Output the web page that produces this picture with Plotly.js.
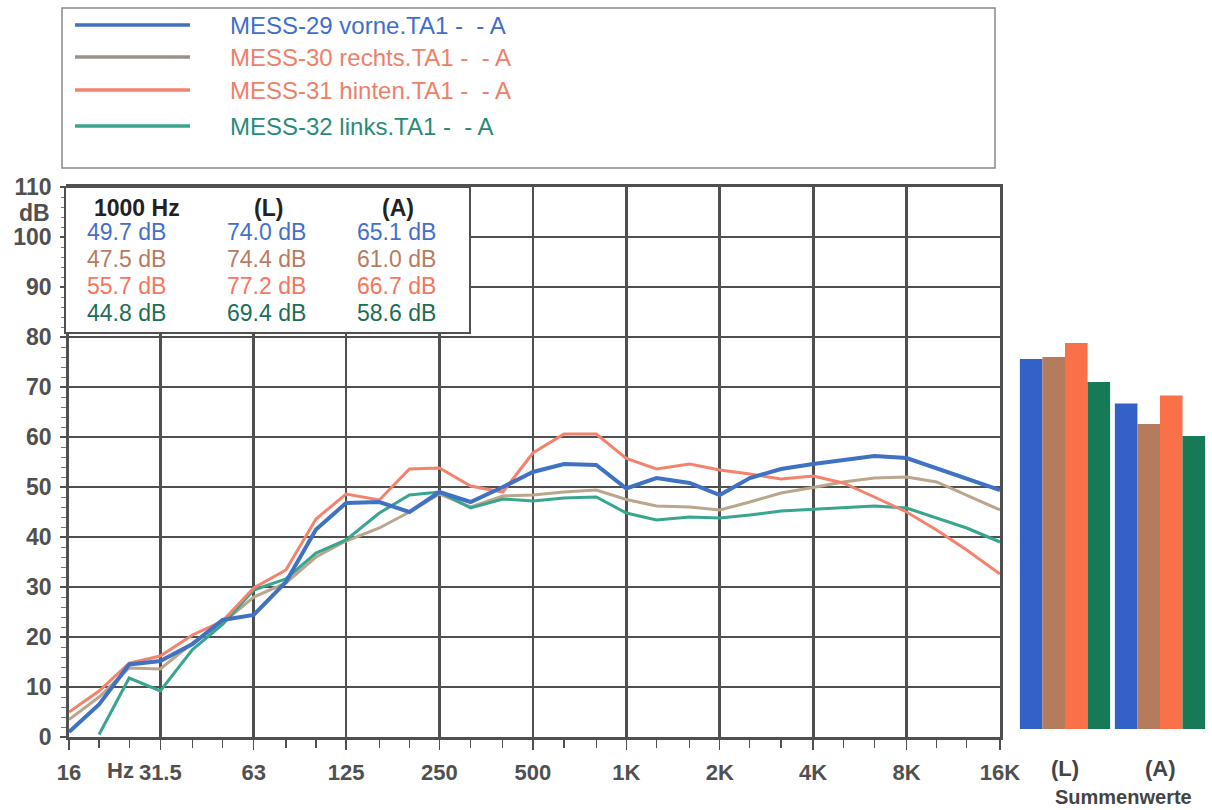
<!DOCTYPE html>
<html>
<head>
<meta charset="utf-8">
<script src="https://cdn.plot.ly/plotly-3.0.1.min.js"></script>
<style>html,body{margin:0;padding:0;background:#fff;}#chart{width:1212px;height:810px;}</style>
</head>
<body>
<div id="chart"></div>
<script>
// third-octave band centre frequencies (Hz)
const freqs = [16,20,25,31.5,40,50,63,80,100,125,160,200,250,315,400,500,630,800,1000,1250,1600,2000,2500,3150,4000,5000,6300,8000,10000,12500,16000];
const octaveTicks = [16,31.5,63,125,250,500,1000,2000,4000,8000,16000];
const octaveLabels = ["16","31.5","63","125","250","500","1K","2K","4K","8K","16K"];

const seriesNames = ["MESS-29 vorne.TA1 -  - A","MESS-30 rechts.TA1 -  - A","MESS-31 hinten.TA1 -  - A","MESS-32 links.TA1 -  - A"];

const mess29 = [1,6.5,14.5,15.2,18.6,23.4,24.4,31,41.5,46.8,47,45,49,47,50,53,54.6,54.4,49.7,51.8,50.8,48.4,51.8,53.6,54.6,55.4,56.2,55.8,53.8,51.8,49.4];
const mess30 = [3.5,8,13.8,13.6,18.8,22.8,28,30.8,36,39.2,41.8,45,48.6,46,48.2,48.4,49,49.4,47.5,46.2,46,45.4,47,48.8,49.9,51,51.8,52,51,48.4,45.4];
const mess31 = [5,9.2,14.8,16.2,20.4,23.2,29.8,33.4,43.6,48.6,47.4,53.6,53.8,50.2,49,56.8,60.6,60.6,55.7,53.6,54.6,53.4,52.6,51.6,52.2,50.8,48,45,41.4,37.4,32.6];
const mess32 = [null,0.5,11.8,9.2,17.5,22.5,29.4,31.6,36.8,39.4,44.8,48.4,49,45.8,47.6,47.2,47.8,48,44.8,43.4,44,43.8,44.4,45.2,45.5,45.8,46.2,45.8,43.8,41.8,39];

const tableHeader = ["1000 Hz","(L)","(A)"];
const level1000 = [49.7,47.5,55.7,44.8];
const sumL = [74.0,74.4,77.2,69.4];
const sumA = [65.1,61.0,66.7,58.6];
const sumCategories = ["(L)","(A)"];

// styles
const lineColors = ["#3f72c2","#bba58c","#f4826c","#38a58e"];
const lineWidths = [4,3,3,3];
const legendTextColors = ["#3f6ecf","#ef8068","#ef8068","#2a8a7a"];
const tableColors = ["#4470cc","#b87b62","#f87560","#1d6e55"];
const barColors = ["#3262c8","#b47c5c","#fa7048","#167a56"];
const grey = "#505050";
const F = "Liberation Sans, Arial, sans-serif";

const allSeries = [mess29, mess30, mess31, mess32];
const drawOrder = [1,3,2,0];
const traces = [];
drawOrder.forEach(i => {
  traces.push({
    type: "scatter", mode: "lines", x: freqs, y: allSeries[i], name: seriesNames[i],
    line: {color: lineColors[i], width: lineWidths[i]}, connectgaps: false,
    xaxis: "x", yaxis: "y", showlegend: false, hoverinfo: "skip"
  });
});
for (let i = 0; i < 4; i++) {
  traces.push({
    type: "bar", x: sumCategories, y: [sumL[i], sumA[i]], name: seriesNames[i],
    marker: {color: barColors[i], line: {width: 0}}, xaxis: "x2", yaxis: "y2",
    showlegend: false, hoverinfo: "skip"
  });
}

// pixel helpers for layout text/shapes (plot area: left 69, width 1141, bottom 737, height 550)
const px = v => (v - 69) / 1141;
const py = v => (737 - v) / 550;

const shapes = [];
const annotations = [];

// legend box
shapes.push({type: "rect", xref: "paper", yref: "paper", x0: px(62), x1: px(995), y0: py(168), y1: py(8),
  line: {color: "#8a8a8a", width: 1.5}, fillcolor: "rgba(0,0,0,0)", layer: "above"});
const legY = [25, 57, 90, 126];
for (let i = 0; i < 4; i++) {
  shapes.push({type: "line", xref: "paper", yref: "paper", x0: px(75), x1: px(190), y0: py(legY[i]), y1: py(legY[i]),
    line: {color: i === 1 ? "#9b918a" : lineColors[i], width: 3.5}});
  annotations.push({xref: "paper", yref: "paper", x: px(228), y: py(legY[i]), xanchor: "left", yanchor: "middle",
    text: seriesNames[i], showarrow: false, font: {family: F, size: 24, color: legendTextColors[i]}});
}

// table box
shapes.push({type: "rect", xref: "paper", yref: "paper", x0: px(65), x1: px(470), y0: py(333), y1: py(187),
  line: {color: grey, width: 2}, fillcolor: "#ffffff", layer: "above"});
const colX = [126, 266, 396];
const headX = [137, 268, 398];
const rowY = [232, 259, 286, 313];
for (let c = 0; c < 3; c++) {
  annotations.push({xref: "paper", yref: "paper", x: px(headX[c]), y: py(208), xanchor: "center", yanchor: "middle",
    text: "<b>" + tableHeader[c] + "</b>", showarrow: false, font: {family: F, size: 23, color: "#222"}});
}
const cols = [level1000, sumL, sumA];
for (let r = 0; r < 4; r++) {
  for (let c = 0; c < 3; c++) {
    annotations.push({xref: "paper", yref: "paper", x: px(colX[c]), y: py(rowY[r]), xanchor: "center", yanchor: "middle",
      text: cols[c][r].toFixed(1) + " dB", showarrow: false, font: {family: F, size: 23, color: tableColors[r]}});
  }
}

// axis extra labels
annotations.push({xref: "paper", yref: "paper", x: px(52), y: py(213), xanchor: "right", yanchor: "middle",
  text: "<b>dB</b>", showarrow: false, font: {family: F, size: 23, color: grey}});
annotations.push({xref: "paper", yref: "paper", x: px(120), y: py(770), xanchor: "center", yanchor: "middle",
  text: "<b>Hz</b>", showarrow: false, font: {family: F, size: 22, color: grey}});
sumCategories.forEach((c, i) => {
  annotations.push({xref: "x2", yref: "paper", x: i, y: py(768), xanchor: "center", yanchor: "middle",
    text: "<b>" + c + "</b>", showarrow: false, font: {family: F, size: 22, color: "#444"}});
});
annotations.push({xref: "paper", yref: "paper", x: px(1123), y: py(797), xanchor: "center", yanchor: "middle",
  text: "<b>Summenwerte</b>", showarrow: false, font: {family: F, size: 20, color: "#444"}});

const layout = {
  width: 1212, height: 810,
  margin: {l: 69, r: 2, t: 187, b: 73, pad: 0},
  paper_bgcolor: "#ffffff", plot_bgcolor: "#ffffff",
  showlegend: false,
  barmode: "group", bargap: 0.05, bargroupgap: 0,
  xaxis: {
    type: "log", range: [Math.log10(16), Math.log10(16000)], domain: [0, 931/1141],
    tickmode: "array", tickvals: octaveTicks, ticktext: octaveLabels,
    showgrid: true, gridcolor: grey, gridwidth: 2.8,
    showline: true, linecolor: grey, linewidth: 2.8, mirror: true,
    ticks: "outside", ticklen: 10, tickwidth: 1.5, tickcolor: grey,
    ticklabelstandoff: 4,
    tickfont: {family: F, size: 22, color: grey, weight: "bold"},
    minor: {tickmode: "array", tickvals: freqs, ticks: "outside", ticklen: 8, tickwidth: 1.2, tickcolor: grey, showgrid: false},
    zeroline: false, fixedrange: true
  },
  yaxis: {
    range: [0, 110], domain: [0, 1], dtick: 10, tick0: 0,
    showgrid: true, gridcolor: grey, gridwidth: 2.8,
    showline: true, linecolor: grey, linewidth: 2.8, mirror: true,
    ticks: "outside", ticklen: 6, tickwidth: 1.2, tickcolor: grey,
    ticklabelstandoff: 4,
    tickfont: {family: F, size: 23, color: grey, weight: "bold"},
    minor: {dtick: 2, ticks: "outside", ticklen: 5, tickwidth: 1, tickcolor: "#777", showgrid: false},
    zeroline: false, fixedrange: true
  },
  xaxis2: {domain: [px(1017.5), px(1207.5)], anchor: "y2", type: "category", range: [-0.5, 1.5], visible: false, fixedrange: true},
  yaxis2: {domain: [8/550, 1], anchor: "x2", range: [0, 542/5], visible: false, fixedrange: true},
  shapes: shapes,
  annotations: annotations
};

Plotly.newPlot("chart", traces, layout, {staticPlot: true, displayModeBar: false});
</script>
</body>
</html>
